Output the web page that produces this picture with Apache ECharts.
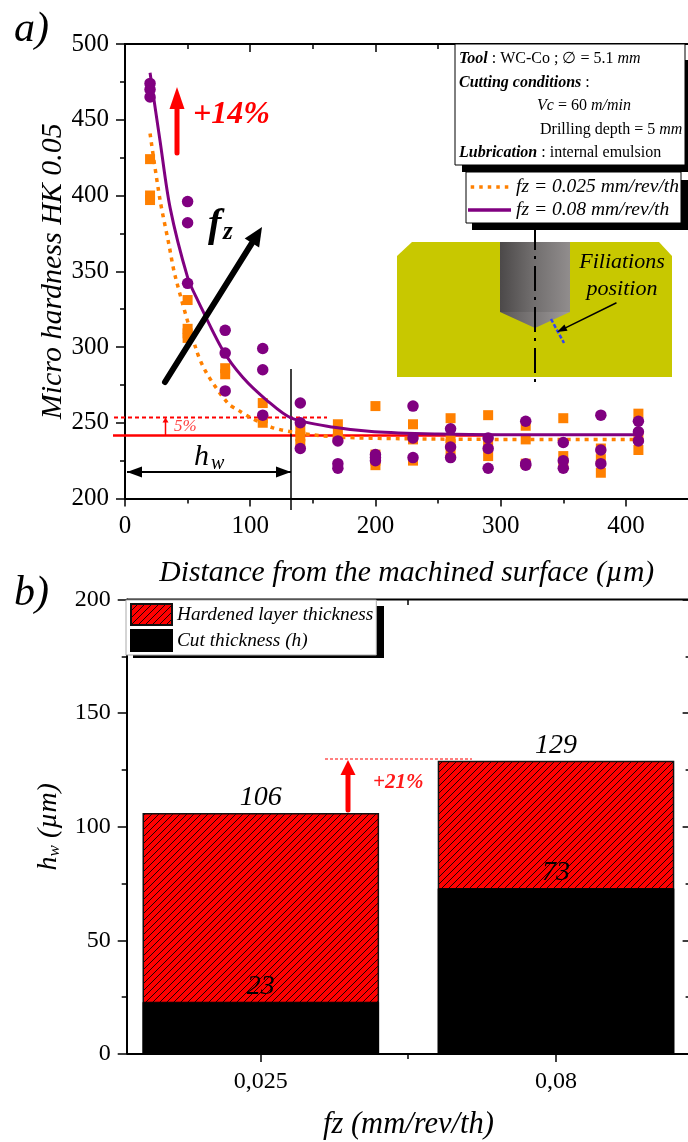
<!DOCTYPE html>
<html><head><meta charset="utf-8">
<style>html,body{margin:0;padding:0;background:#fff}#c{width:688px;height:1142px}</style>
<script src="https://cdn.jsdelivr.net/npm/echarts@6/dist/echarts.min.js"></script>
</head><body><div id="c"></div>
<script>
// ---- data ----
const squares025 = [[20,424],[20,400],[20,397],[50,331],[50,312],[50,309],[50,306],[80,286],[80,282],
 [110,263],[110,253],[110,250],[140,246],[140,241],[140,236],[170,249],[170,244],[170,240],
 [200,261],[200,229],[200,225],[200,222],[230,249],[230,239],[230,225],[260,253],[260,240],[260,236],[260,231],
 [290,255],[290,237],[290,228],[320,248],[320,239],[320,223],[350,253],[350,228],[350,222],
 [380,233],[380,226],[380,217],[410,256],[410,240],[410,232]];
const circles08 = [[20,474],[20,470],[20,465],[50,396],[50,382],[50,342],[80,311],[80,296],[80,271],
 [110,299],[110,285],[110,255],[140,263],[140,250],[140,233],[170,238],[170,223],[170,220],
 [200,229],[200,227],[200,225],[230,261],[230,240],[230,227],[260,246],[260,234],[260,227],
 [290,240],[290,233],[290,220],[320,251],[320,223],[320,222],[350,237],[350,225],[350,220],
 [380,255],[380,232],[380,223],[410,251],[410,244],[410,238]];
const curve025X = [20,28,35,40,57,65,82,91,100,117,140,172,220,300,410];
const curve025Y = [441,397,368,347,298,283,263,258,253.5,247,243,240.5,239.5,239,239];
const curve08X = [20,28,36,50,58,78,94,113,133,167,199,250,300,350,410];
const curve08Y = [481,436,392,346,331,298,280,265,253,247,244,242.5,242,242,242];
const feedCategories = ['0,025','0,08'];
const hardenedThickness = [106,129];
const cutThickness = [23,73];
const name025 = 'fz = 0.025 mm/rev/th';
const name08 = 'fz = 0.08 mm/rev/th';
const nameHard = 'Hardened layer thickness';
const nameCut = 'Cut thickness (h)';

const SERIF = '"Liberation Serif"';
const zip = (a,b)=>a.map((v,i)=>[v,b[i]]);

function hatch(){
  const n=7, c=document.createElement('canvas'); c.width=n; c.height=n;
  const g=c.getContext('2d');
  g.fillStyle='#ff0000'; g.fillRect(0,0,n,n);
  g.strokeStyle='#200000'; g.lineWidth=1;
  g.beginPath();
  g.moveTo(-1,1);g.lineTo(1,-1);
  g.moveTo(0,n);g.lineTo(n,0);
  g.moveTo(n-1,n+1);g.lineTo(n+1,n-1);
  g.stroke();
  return c;
}
function arrow(x1,y1,x2,y2,w,hl,hw,color,z){
  const d=Math.hypot(x2-x1,y2-y1),ux=(x2-x1)/d,uy=(y2-y1)/d,nx=-uy,ny=ux;
  const bx=x2-ux*hl,by=y2-uy*hl;
  return [
   {type:'line',z:z||9,shape:{x1:x1,y1:y1,x2:bx,y2:by},style:{stroke:color,lineWidth:w,lineCap:'round'}},
   {type:'polygon',z:z||9,shape:{points:[[x2,y2],[bx+nx*hw/2,by+ny*hw/2],[bx-nx*hw/2,by-ny*hw/2]]},style:{fill:color}}
  ];
}
const line=(x1,y1,x2,y2,stroke,lineWidth,z,dash)=>({type:'line',z:z||1,shape:{x1,y1,x2,y2},style:{stroke,lineWidth,lineDash:dash||null}});
const rect=(x,y,w,h,fill,z,stroke)=>({type:'rect',z:z||1,shape:{x,y,width:w,height:h},style:{fill,stroke:stroke||null,lineWidth:stroke?1:0}});
const text=(x,y,t,font,fill,z,extra)=>({type:'text',z:z||9,x,y,style:Object.assign({text:t,font:font+' '+SERIF,fill:fill||'#000',align:'left',verticalAlign:'middle'},extra||{})});

const infoRich={b:{font:'italic bold 16px '+SERIF,fill:'#000'},i:{font:'italic 16px '+SERIF,fill:'#000'},n:{font:'16px '+SERIF,fill:'#000'}};
const info=(x,y,t)=>({type:'text',z:12,x,y,style:{text:t,rich:infoRich,font:'16px '+SERIF,fill:'#000',align:'left',verticalAlign:'middle'}});

const graphics=[
 // inset picture
 {type:'polygon',z:1,shape:{points:[[397,256],[412,242],[659,242],[672,256],[672,377],[397,377]]},style:{fill:'#C8C800'}},
 {type:'rect',z:1,shape:{x:500,y:242,width:70,height:70},style:{fill:new echarts.graphic.LinearGradient(0,0,1,0,[{offset:0,color:'#4c4949'},{offset:.45,color:'#6f6c6c'},{offset:1,color:'#918d8d'}])}},
 {type:'polygon',z:1,shape:{points:[[500,312],[570,312],[535,328]]},style:{fill:new echarts.graphic.LinearGradient(0,0,1,0,[{offset:0,color:'#5a5757'},{offset:1,color:'#a09c9c'}])}},
 line(535,225,535,383,'#000',2,1,[25,6,3,7]),
 line(551,319,564,343,'#3344ee',2.5,2,[4,2]),
 ...arrow(616,303,557,332,1.5,10,7,'#000',3),
 text(622,262,'Filiations','italic 22px','#000',3,{align:'center'}),
 text(622,289,'position','italic 22px','#000',3,{align:'center'}),
 // info box
 rect(462,60,226,112,'#000',10),
 rect(455,44,230,121,'#fff',11,'#000'),
 info(459,59,'{b|Tool} : WC-Co ; ∅ = 5.1 {i|mm}'),
 info(459,83,'{b|Cutting conditions} :'),
 info(537,106,'{i|Vc} = 60 {i|m/min}'),
 info(540,130,'Drilling depth = 5 {i|mm}'),
 info(459,153,'{b|Lubrication} : internal emulsion'),
 rect(472,180,216,50,'#000',10),
 // plot a annotations
 text(14,30,'a)','italic 42px'),
 text(14,594,'b)','italic 42px'),
 ...arrow(177,153,177,87,5,22,15,'#ff0000'),
 text(193,115,'+14%','italic bold 32px','#ff0000'),
 ...arrow(165,382,262,227,6,19,17,'#000'),
 text(208,226,'f','italic bold 40px'),
 text(223,233,'z','italic bold 25px'),
 line(113,435.5,488,435.5,'#ff0000',2.5,1),
 line(114,417.5,327,417.5,'#ff0000',2,1,[4,3]),
 ...arrow(165.5,435,165.5,417.5,1.5,5,6,'#ff0000',3),
 text(174,427,'5%','italic 17px','#ff4040'),
 line(291,369,291,510,'#000',1.5,3),
 ...arrow(160,472,127,472,1.5,15,11,'#000',3),
 ...arrow(258,472,291,472,1.5,15,11,'#000',3),
 line(127,472,291,472,'#000',2,3),
 text(194,457,'h','italic 30px'),
 text(211,464,'w','italic 20px'),
 // plot b
 rect(133,606,251,52,'#000',10),
 line(127,1054,688,1054,'#000',2,6),
 line(127,599.5,688,599.5,'#000',2,6),
 line(408,1054,408,1059,'#000',1.5,6),
 line(408,600,408,605,'#000',1.5,6),
 line(325,759,472,759,'#ff0000',1,3,[3,2]),
 ...arrow(348,810,348,760,5,15,15,'#ff0000'),
 text(373,783,'+21%','italic bold 21px','#ff1a1a')
];

const dashIcon='path://M0,0h4v4h-4z M9.75,0h4v4h-4z M19.5,0h4v4h-4z M29.25,0h4v4h-4z M39,0h4v4h-4z';
const axisBase={axisLine:{show:true,lineStyle:{color:'#000',width:2}},splitLine:{show:false},
 axisTick:{show:true,length:8,lineStyle:{color:'#000',width:1.5}},
 minorTick:{show:true,splitNumber:2,length:5,lineStyle:{color:'#000',width:1.5}},
 axisLabel:{color:'#000',fontFamily:SERIF,fontSize:25}};
const inner=Object.assign({},axisBase,{axisLabel:{show:false},
 axisTick:{show:true,inside:true,length:8,lineStyle:{color:'#000',width:1.5}},
 minorTick:{show:true,splitNumber:2,length:5,lineStyle:{color:'#000',width:1.5}}});
const nameStyle=size=>({color:'#000',fontFamily:SERIF,fontStyle:'italic',fontSize:size});
const catBase={type:'category',data:feedCategories,gridIndex:1,axisLine:{show:false},splitLine:{show:false},
 axisTick:{show:true,alignWithLabel:true,length:8,lineStyle:{color:'#000',width:1.5}}};

const option={
 animation:false,
 backgroundColor:'#fff',
 grid:[{left:125,top:44,width:563.5,height:454.5,outerBoundsMode:'none'},{left:113.2,top:599.5,width:590.4,height:454.5,outerBoundsMode:'none'}],
 xAxis:[
  Object.assign({},axisBase,{type:'value',gridIndex:0,min:0,max:450,interval:100,position:'bottom',
    axisLabel:Object.assign({},axisBase.axisLabel,{margin:15,customValues:[0,100,200,300,400]}),
    name:'Distance from the machined surface (µm)',nameLocation:'middle',nameGap:60,nameTextStyle:nameStyle(29.7)}),
  Object.assign({},inner,{type:'value',gridIndex:0,min:0,max:450,interval:100,position:'top'}),
  Object.assign({},catBase,{position:'bottom',axisLabel:{color:'#000',fontFamily:SERIF,fontSize:24,margin:16},
    name:'fz (mm/rev/th)',nameLocation:'middle',nameGap:56,nameTextStyle:nameStyle(30.5)}),
  Object.assign({},catBase,{position:'top',axisLabel:{show:false},axisTick:{show:true,inside:true,alignWithLabel:true,length:8,lineStyle:{color:'#000',width:1.5}}})
 ],
 yAxis:[
  Object.assign({},axisBase,{type:'value',gridIndex:0,min:200,max:500,interval:50,position:'left',
    axisTick:{show:true,length:9,lineStyle:{color:'#000',width:1.5}},
    axisLabel:Object.assign({},axisBase.axisLabel,{margin:16}),
    name:'Micro hardness HK 0.05',nameLocation:'middle',nameGap:57,nameMoveOverlap:false,nameTextStyle:nameStyle(30)}),
  Object.assign({},inner,{type:'value',gridIndex:0,min:200,max:500,interval:50,position:'right'}),
  Object.assign({},axisBase,{type:'value',gridIndex:1,min:0,max:200,interval:50,position:'left',offset:-13.5,
    axisTick:{show:true,length:9,lineStyle:{color:'#000',width:1.5}},
    axisLabel:Object.assign({},axisBase.axisLabel,{fontSize:24,margin:16}),
    name:'{h|h}{s|w}{h| (µm)}',nameLocation:'middle',nameGap:64,
    nameTextStyle:Object.assign(nameStyle(28),{rich:{h:{fontFamily:SERIF,fontStyle:'italic',fontSize:28,color:'#000'},s:{fontFamily:SERIF,fontStyle:'italic',fontSize:17,color:'#000',verticalAlign:'bottom'}}})}),
  Object.assign({},inner,{type:'value',gridIndex:1,min:0,max:200,interval:50,position:'right',offset:-13})
 ],
 legend:[
  {left:466,top:172,orient:'vertical',data:[{name:name025,icon:dashIcon},{name:name08,icon:'rect'}],padding:[5,2,3,2],itemGap:3,itemWidth:43,itemHeight:3.5,
   backgroundColor:'#fff',borderColor:'#000',borderWidth:1,z:20,
   textStyle:{fontFamily:SERIF,fontStyle:'italic',fontSize:19.5,lineHeight:20,color:'#000'}},
  {left:126,top:600,orient:'vertical',data:[{name:nameHard,icon:'rect'},{name:nameCut,icon:'rect'}],padding:[3,3,3,4],itemGap:3,itemWidth:41,itemHeight:21,
   backgroundColor:'#fff',borderColor:'#aaa',borderWidth:1,z:20,
   textStyle:{fontFamily:SERIF,fontStyle:'italic',fontSize:19.3,color:'#000'}}
 ],
 series:[
  {type:'scatter',name:'points 0.025',xAxisIndex:0,yAxisIndex:0,data:squares025,symbol:'rect',symbolSize:10,itemStyle:{color:'#FF8000',opacity:1},z:3},
  {type:'line',name:name025,xAxisIndex:0,yAxisIndex:0,data:zip(curve025X,curve025Y),smooth:0.3,showSymbol:false,symbol:'none',
    lineStyle:{color:'#FF8000',width:3.5,type:[4,5]},itemStyle:{color:'#FF8000'},z:4},
  {type:'scatter',name:'points 0.08',xAxisIndex:0,yAxisIndex:0,data:circles08,symbol:'circle',symbolSize:11.5,itemStyle:{color:'#800080',opacity:1},z:5},
  {type:'line',name:name08,xAxisIndex:0,yAxisIndex:0,data:zip(curve08X,curve08Y),smooth:0.3,showSymbol:false,symbol:'none',
    lineStyle:{color:'#800080',width:3},itemStyle:{color:'#800080'},z:6},
  {type:'bar',name:nameHard,xAxisIndex:2,yAxisIndex:2,data:hardenedThickness,barWidth:236.6,barGap:'-100%',
    itemStyle:{color:{image:hatch(),repeat:'repeat'},borderColor:'#111',borderWidth:1.5},
    label:{show:true,position:'top',distance:1,fontFamily:SERIF,fontStyle:'italic',fontSize:28,color:'#000'},z:3},
  {type:'bar',name:nameCut,xAxisIndex:2,yAxisIndex:2,data:cutThickness,barWidth:236.6,barGap:'-100%',
    itemStyle:{color:'#000',borderColor:'#000',borderWidth:1},
    label:{show:true,position:'top',distance:1,fontFamily:SERIF,fontStyle:'italic',fontSize:28,color:'#000'},z:4}
 ],
 graphic:{elements:graphics}
};
const chart=echarts.init(document.getElementById('c'),null,{renderer:'canvas'});
chart.setOption(option);
</script></body></html>
